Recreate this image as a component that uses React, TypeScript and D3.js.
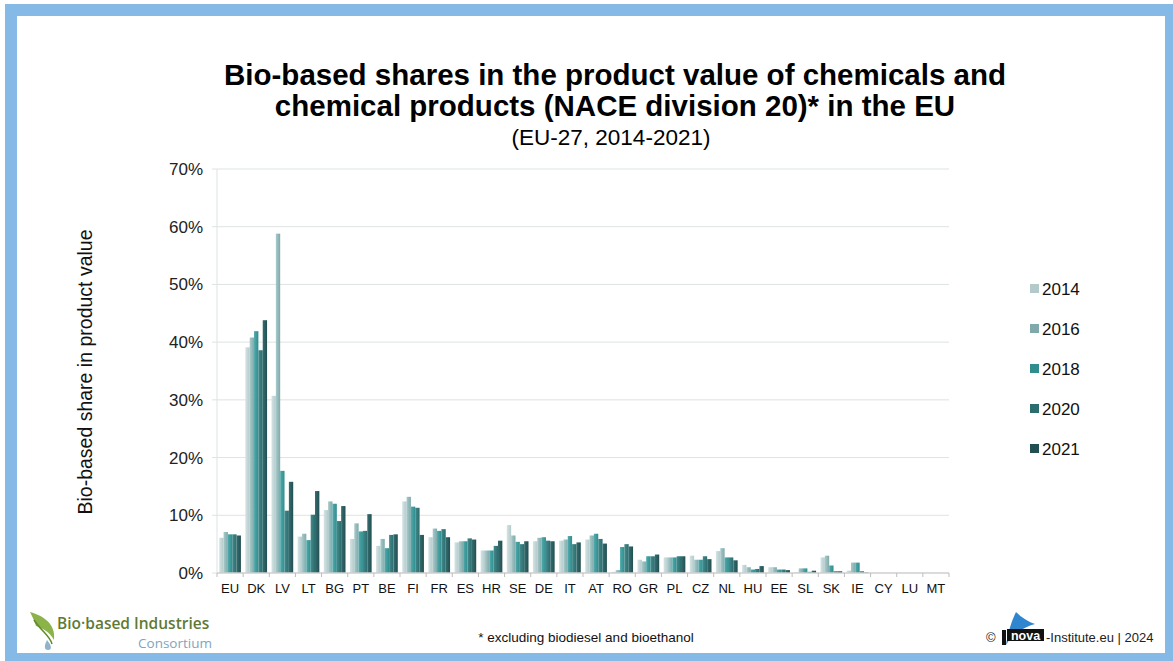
import React from 'react';
import * as d3 from 'd3';

const categories = ['EU', 'DK', 'LV', 'LT', 'BG', 'PT', 'BE', 'FI', 'FR', 'ES', 'HR', 'SE', 'DE', 'IT', 'AT', 'RO', 'GR', 'PL', 'CZ', 'NL', 'HU', 'EE', 'SL', 'SK', 'IE', 'CY', 'LU', 'MT'];
const years = ['2014', '2016', '2018', '2020', '2021'];

const v2014 = [6.1, 39.1, 30.7, 6.3, 10.9, 5.9, 4.7, 12.4, 6.2, 5.3, 3.9, 8.3, 5.5, 5.6, 5.8, 0.2, 2.3, 2.7, 3.0, 3.8, 1.4, 1.0, 0.1, 2.7, 0.4, 0, 0, 0];
const v2016 = [7.1, 40.8, 58.8, 6.8, 12.4, 8.6, 5.9, 13.2, 7.7, 5.5, 3.9, 6.5, 6.1, 5.8, 6.5, 0.5, 2.0, 2.7, 2.3, 4.3, 1.0, 1.0, 0.8, 3.0, 1.8, 0, 0, 0];
const v2018 = [6.7, 41.9, 17.7, 5.7, 12.0, 7.2, 4.3, 11.5, 7.3, 5.5, 3.9, 5.4, 6.2, 6.4, 6.8, 4.5, 2.9, 2.7, 2.3, 2.7, 0.6, 0.6, 0.8, 1.3, 1.8, 0, 0, 0];
const v2020 = [6.7, 38.6, 10.8, 10.1, 9.0, 7.3, 6.6, 11.3, 7.6, 6.0, 4.7, 5.0, 5.6, 5.0, 5.9, 5.0, 2.9, 2.9, 2.9, 2.7, 0.7, 0.6, 0.2, 0.3, 0.3, 0, 0, 0];
const v2021 = [6.5, 43.8, 15.8, 14.2, 11.6, 10.2, 6.7, 6.6, 6.2, 5.8, 5.6, 5.5, 5.5, 5.3, 5.1, 4.6, 3.2, 2.9, 2.4, 2.2, 1.2, 0.5, 0.4, 0.3, 0.1, 0, 0, 0];
const series = [v2014, v2016, v2018, v2020, v2021];

const yTicks = [0, 10, 20, 30, 40, 50, 60, 70];

// fill colours per year: [left highlight, right shade]
const colors = [
  ['#d4e3e4', '#b4caca'],
  ['#a9cacb', '#7fa9aa'],
  ['#52aaab', '#2f8d8e'],
  ['#45898b', '#2a6d6f'],
  ['#376e71', '#214f52'],
];

const W = 1173;
const H = 661;
const plot = { left: 217, right: 949, top: 169, bottom: 573 };
const font = '"Liberation Sans", Arial, sans-serif';
const logoFont = '"Open Sans", "DejaVu Sans", sans-serif';

export default function App() {
  const x = d3.scaleBand().domain(categories).range([plot.left, plot.right]).paddingInner(0.17).paddingOuter(0.085);
  const xi = d3.scaleBand().domain(years).range([0, x.bandwidth()]);
  const y = d3.scaleLinear().domain([0, 70]).range([plot.bottom, plot.top]);
  const step = x.step();
  const boundaries = d3.range(categories.length + 1).map(i => plot.left + i * step);

  return (
    <svg width={W} height={H} style={{ position: 'absolute', left: 0, top: 0, display: 'block' }}>
      <defs>
        {colors.map((c, i) => (
          <linearGradient key={i} id={'g' + i} x1="0" x2="1" y1="0" y2="0">
            <stop offset="0" stopColor={c[0]} />
            <stop offset="1" stopColor={c[1]} />
          </linearGradient>
        ))}
      </defs>
      <rect x={0} y={0} width={W} height={H} fill="#fff" />
      <rect x={5} y={4} width={W - 5} height={H - 4} fill="#85b9e6" />
      <rect x={17} y={16} width={1148} height={637} fill="#fff" />

      {/* title */}
      <text x={615} y={85} textAnchor="middle" fontFamily={font} fontWeight="bold" fontSize={29.5} fill="#000">
        Bio-based shares in the product value of chemicals and
      </text>
      <text x={615} y={116} textAnchor="middle" fontFamily={font} fontWeight="bold" fontSize={29.5} fill="#000">
        chemical products (NACE division 20)* in the EU
      </text>
      <text x={611} y={145} textAnchor="middle" fontFamily={font} fontSize={22.5} fill="#000">
        (EU-27, 2014-2021)
      </text>

      {/* grid */}
      {yTicks.map(t => (
        <g key={t}>
          {t > 0 && <line x1={plot.left} x2={plot.right} y1={y(t)} y2={y(t)} stroke="#dde3e3" strokeWidth={1} />}
          <line x1={plot.left - 5} x2={plot.left} y1={y(t)} y2={y(t)} stroke="#dde3e3" />
          <text x={203} y={y(t) + 6} textAnchor="end" fontFamily={font} fontSize={17} fill="#222">{t + '%'}</text>
        </g>
      ))}
      <line x1={plot.left} x2={plot.left} y1={plot.top} y2={plot.bottom} stroke="#dde3e3" />

      {/* bars */}
      {series.map((vals, si) =>
        categories.map((c, ci) =>
          vals[ci] > 0 ? (
            <rect
              key={si + '-' + c}
              x={(x(c) as number) + (xi(years[si]) as number)}
              y={y(vals[ci])}
              width={xi.bandwidth()}
              height={plot.bottom - y(vals[ci])}
              fill={`url(#g${si})`}
            />
          ) : null
        )
      )}

      {/* x axis */}
      <line x1={plot.left} x2={plot.right} y1={plot.bottom} y2={plot.bottom} stroke="#cfcfcf" strokeWidth={1.5} />
      {boundaries.map((b, i) => (
        <line key={i} x1={b} x2={b} y1={plot.bottom} y2={plot.bottom + 4} stroke="#bdbdbd" />
      ))}
      {categories.map(c => (
        <text key={c} x={(x(c) as number) + x.bandwidth() / 2} y={593} textAnchor="middle" fontFamily={font} fontSize={13} fill="#111">
          {c}
        </text>
      ))}

      {/* y label */}
      <text transform={`translate(92,${372}) rotate(-90)`} textAnchor="middle" fontFamily={font} fontSize={19.5} fill="#111">
        Bio-based share in product value
      </text>

      {/* legend */}
      {years.map((yr, i) => (
        <g key={yr} transform={`translate(1030,${289 + i * 40})`}>
          <rect x={0} y={-5} width={9} height={9} fill={colors[i][1]} />
          <text x={12} y={6} fontFamily={font} fontSize={17} fill="#111">{yr}</text>
        </g>
      ))}

      {/* footnote */}
      <text x={586} y={642} textAnchor="middle" fontFamily={font} fontSize={13.5} fill="#111">
        * excluding biodiesel and bioethanol
      </text>

      {/* BIC logo */}
      <g>
        <path d="M30,612 C44,616 56,624 54,640 C50,632 42,628 36,626 C34,620 32,616 30,612 Z" fill="#8bb34a" />
        <path d="M34,620 C42,632 50,636 52,644" fill="none" stroke="#5e8a2a" strokeWidth={1.5} />
        <path d="M47,640 C44,646 44,650 48,650 C52,650 52,646 47,640 Z" fill="#8fb3c9" />
        <text x={57} y={629} fontFamily={logoFont} fontSize={15.5} fontWeight="600" fill="#5f7a35">
          Bio·based Industries
        </text>
        <text x={212} y={648} textAnchor="end" fontFamily={logoFont} fontSize={13.5} fill="#7fa5bd">
          Consortium
        </text>
      </g>

      {/* nova logo */}
      <g>
        <text x={986} y={642} fontFamily={font} fontSize={13} fill="#222">©</text>
        <path d="M1006,645 C1008,632 1012,620 1016,612 C1022,618 1029,622 1035,624 C1024,627 1012,634 1006,645 Z" fill="#2f86cf" />
        <rect x={1002} y={630} width={4} height={15} fill="#111" />
        <rect x={1007} y={629} width={37} height={12} fill="#111" />
        <text x={1025.5} y={639.5} textAnchor="middle" fontFamily={font} fontSize={12.5} fontWeight="bold" fill="#fff">nova</text>
        <text x={1046} y={642} fontFamily={font} fontSize={13} fill="#222">-Institute.eu | 2024</text>
      </g>
    </svg>
  );
}
